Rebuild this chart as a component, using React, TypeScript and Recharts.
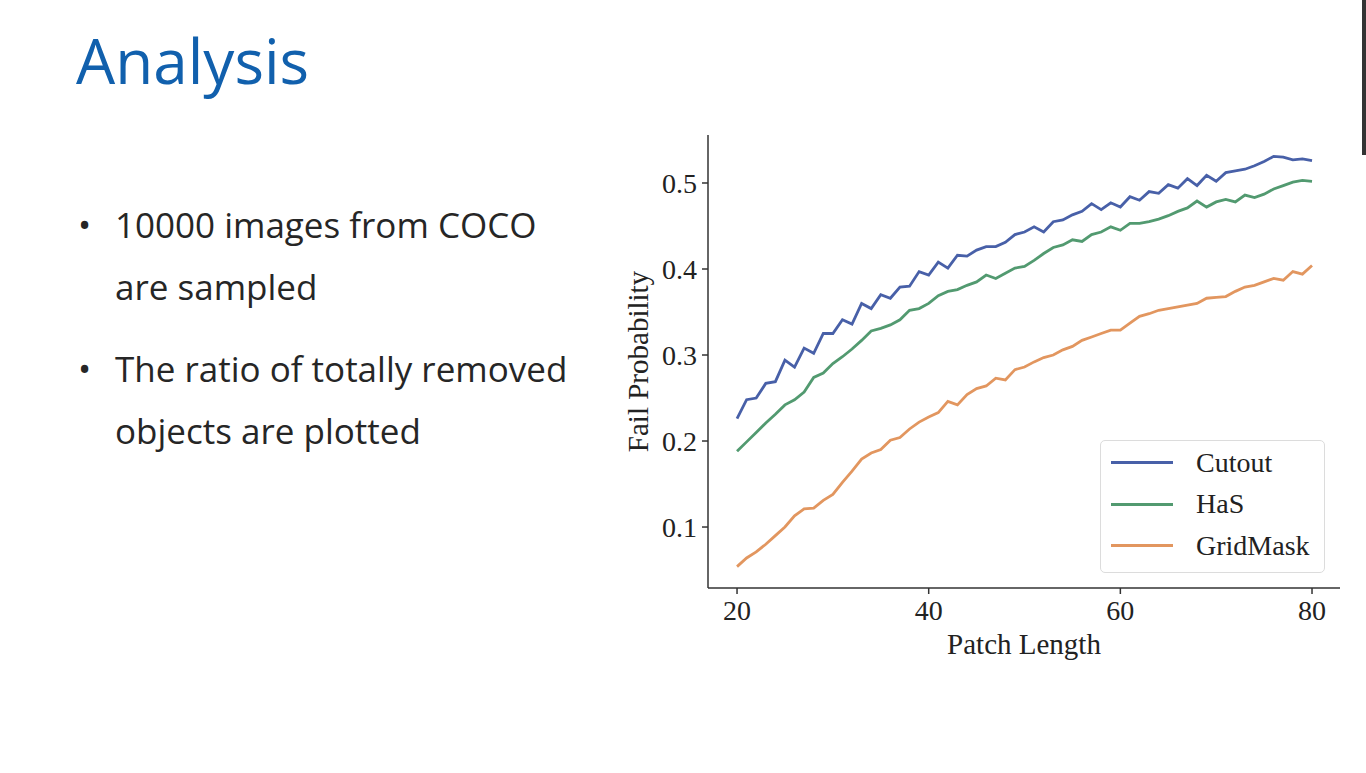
import { LineChart, Line, XAxis, YAxis } from 'recharts'

// patch length sampled at every integer from 20 to 80
const patchLength = [
  20, 21, 22, 23, 24, 25, 26, 27, 28, 29, 30, 31, 32, 33, 34, 35, 36, 37, 38, 39, 40,
  41, 42, 43, 44, 45, 46, 47, 48, 49, 50, 51, 52, 53, 54, 55, 56, 57, 58, 59, 60,
  61, 62, 63, 64, 65, 66, 67, 68, 69, 70, 71, 72, 73, 74, 75, 76, 77, 78, 79, 80,
]

const cutout = [
  0.226, 0.248, 0.25, 0.267, 0.269, 0.294, 0.286, 0.308, 0.302, 0.325, 0.325,
  0.341, 0.336, 0.36, 0.354, 0.37, 0.366, 0.379, 0.38, 0.397, 0.393,
  0.408, 0.401, 0.416, 0.415, 0.422, 0.426, 0.426, 0.431, 0.44, 0.443,
  0.449, 0.443, 0.455, 0.457, 0.463, 0.467, 0.476, 0.469, 0.477, 0.472,
  0.484, 0.48, 0.49, 0.488, 0.498, 0.494, 0.505, 0.497, 0.509, 0.502,
  0.512, 0.514, 0.516, 0.52, 0.525, 0.531, 0.53, 0.527, 0.528, 0.526,
]

const has = [
  0.188, 0.199, 0.21, 0.221, 0.231, 0.242, 0.248, 0.257, 0.274, 0.279, 0.29,
  0.298, 0.307, 0.317, 0.328, 0.331, 0.335, 0.341, 0.352, 0.354, 0.36,
  0.369, 0.374, 0.376, 0.381, 0.385, 0.393, 0.389, 0.395, 0.401, 0.403,
  0.41, 0.418, 0.425, 0.428, 0.434, 0.432, 0.44, 0.443, 0.449, 0.445,
  0.453, 0.453, 0.455, 0.458, 0.462, 0.467, 0.471, 0.479, 0.472, 0.478,
  0.481, 0.478, 0.486, 0.483, 0.487, 0.493, 0.497, 0.501, 0.503, 0.502,
]

const gridMask = [
  0.054, 0.064, 0.071, 0.08, 0.09, 0.1, 0.113, 0.121, 0.122, 0.131, 0.138,
  0.152, 0.165, 0.179, 0.186, 0.19, 0.201, 0.204, 0.214, 0.222, 0.228,
  0.233, 0.246, 0.242, 0.254, 0.261, 0.264, 0.273, 0.271, 0.283, 0.286,
  0.292, 0.297, 0.3, 0.306, 0.31, 0.317, 0.321, 0.325, 0.329, 0.329,
  0.337, 0.345, 0.348, 0.352, 0.354, 0.356, 0.358, 0.36, 0.366, 0.367,
  0.368, 0.374, 0.379, 0.381, 0.385, 0.389, 0.387, 0.397, 0.394, 0.404,
]

const xTicks = [20, 40, 60, 80]
const yTicks = [0.1, 0.2, 0.3, 0.4, 0.5]

const series = [
  { key: 'cutout', name: 'Cutout', color: '#4860a8' },
  { key: 'has', name: 'HaS', color: '#529a70' },
  { key: 'gridMask', name: 'GridMask', color: '#e2965f' },
]

const rows = patchLength.map((length, i) => ({
  length,
  cutout: cutout[i],
  has: has[i],
  gridMask: gridMask[i],
}))

const serif = '"Liberation Serif", "DejaVu Serif", serif'
const sans = '"Open Sans", "Noto Sans", sans-serif'

const XTitle = (props: any) => {
  const vb = props.viewBox || {}
  return (
    <text
      x={vb.x + vb.width / 2}
      y={vb.y + 56}
      textAnchor="middle"
      dominantBaseline="central"
      fill="#222"
      fontSize={29}
      fontFamily={serif}
    >
      Patch Length
    </text>
  )
}

const YTitle = (props: any) => {
  const vb = props.viewBox || {}
  const cx = vb.x + 38
  const cy = vb.y + vb.height / 2
  return (
    <text
      x={cx}
      y={cy}
      transform={`rotate(-90 ${cx} ${cy})`}
      textAnchor="middle"
      dominantBaseline="central"
      fill="#222"
      fontSize={29}
      fontFamily={serif}
    >
      Fail Probability
    </text>
  )
}

// legend drawn as an overlay so it doesn't steal room from the plot
const LegendBox = () => (
  <div
    style={{
      position: 'absolute',
      left: 500,
      top: 320,
      width: 225,
      height: 133,
      boxSizing: 'border-box',
      border: '1px solid #dcdcdc',
      borderRadius: 5,
      background: '#fff',
      padding: '1px 0 0 10px',
    }}
  >
    {series.map((s) => (
      <div key={s.key} style={{ display: 'flex', alignItems: 'center', height: 41.5 }}>
        <div style={{ width: 62, height: 2.8, background: s.color }} />
        <span style={{ marginLeft: 23, fontFamily: serif, fontSize: 28, color: '#222' }}>{s.name}</span>
      </div>
    ))}
  </div>
)

export default function App() {
  return (
    <div
      style={{
        position: 'absolute',
        left: 0,
        top: 0,
        width: 1366,
        height: 773,
        background: '#fff',
        overflow: 'hidden',
      }}
    >
      <div
        style={{
          position: 'absolute',
          left: 76,
          top: 18,
          fontFamily: sans,
          fontSize: 62,
          color: '#1160ad',
          lineHeight: '84px',
        }}
      >
        Analysis
      </div>

      <div style={{ position: 'absolute', left: 78, top: 194, fontFamily: sans, fontSize: 35, color: '#262626', lineHeight: '62px' }}>
        <div style={{ display: 'flex' }}>
          <span style={{ width: 37 }}>•</span>
          <span>
            10000 images from COCO
            <br />
            are sampled
          </span>
        </div>
        <div style={{ display: 'flex', marginTop: 20 }}>
          <span style={{ width: 37 }}>•</span>
          <span>
            The ratio of totally removed
            <br />
            objects are plotted
          </span>
        </div>
      </div>

      <div style={{ position: 'absolute', left: 1362, top: 0, width: 4, height: 155, background: '#333' }} />

      <div style={{ position: 'absolute', left: 600, top: 120, width: 760, height: 560 }}>
        <LineChart width={760} height={560} data={rows} margin={{ top: 15, right: 20, left: 0, bottom: 0 }}>
          <XAxis
            dataKey="length"
            type="number"
            domain={[16.97, 82.92]}
            ticks={xTicks}
            allowDataOverflow
            height={92}
            tickSize={6}
            tickMargin={6}
            tick={{ fill: '#222', fontSize: 28, fontFamily: serif }}
            axisLine={{ stroke: '#333', strokeWidth: 1.5 }}
            tickLine={{ stroke: '#333', strokeWidth: 1.5 }}
            label={<XTitle />}
          />
          <YAxis
            type="number"
            domain={[0.0291, 0.5558]}
            ticks={yTicks}
            allowDataOverflow
            width={108}
            tickSize={6}
            tickMargin={5}
            tickFormatter={(v) => v.toFixed(1)}
            tick={{ fill: '#222', fontSize: 28, fontFamily: serif }}
            axisLine={{ stroke: '#333', strokeWidth: 1.5 }}
            tickLine={{ stroke: '#333', strokeWidth: 1.5 }}
            label={<YTitle />}
          />
          {series.map((s) => (
            <Line
              key={s.key}
              dataKey={s.key}
              name={s.name}
              type="linear"
              stroke={s.color}
              strokeWidth={2.8}
              dot={false}
              isAnimationActive={false}
            />
          ))}
        </LineChart>
        <LegendBox />
      </div>
    </div>
  )
}
